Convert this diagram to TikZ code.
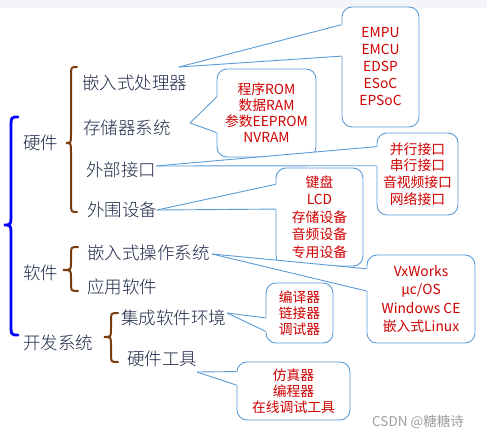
\documentclass[tikz,border=0pt]{standalone}
\usepackage{fontspec}
\newfontfamily\cjk{Noto Sans CJK SC}
\IfFontExistsTF{Noto Sans CJK SC Light}{\newfontfamily\cjkl{Noto Sans CJK SC Light}}{\newfontfamily\cjkl{Noto Sans CJK SC}}
\usetikzlibrary{calc}
\definecolor{navytext}{RGB}{30,40,72}
\definecolor{calloutred}{RGB}{208,0,0}
\definecolor{boxblue}{RGB}{91,155,213}
\definecolor{bracebrown}{RGB}{120,60,15}
\definecolor{braceblue}{RGB}{0,0,255}
\definecolor{topband}{RGB}{243,245,248}
\newcommand\mybrace[8]{%
  \draw[#1] ({#2},{#5}) .. controls ({#3},{#5}) and ({#3},{#5}) .. ({#3},{#5+#8})
    -- ({#3},{#6-#8}) .. controls ({#3},{#6}) and ({#3},{#6}) .. ({#4},{#6})
    .. controls ({#3},{#6}) and ({#3},{#6}) .. ({#3},{#6+#8})
    -- ({#3},{#7-#8}) .. controls ({#3},{#7}) and ({#3},{#7}) .. ({#2},{#7});}
\begin{document}
\begin{tikzpicture}[x=1bp,y=-1bp,
  item/.style={anchor=west, inner sep=0, text=navytext, font=\cjkl\fontsize{17.5bp}{20bp}\selectfont},
  callout/.style={draw=boxblue, line width=0.9bp, rounded corners=10bp, fill=white, inner sep=0,
    align=center, text=calloutred, font=\cjk\fontsize{13.8bp}{#1}\selectfont},
  callout/.default=16.5bp,
  wedgeline/.style={draw=boxblue, line width=0.9bp},
  wedgefill/.style={fill=white, draw=none},
  bluebrace/.style={draw=braceblue, line width=2.8bp, line cap=round},
  brownbrace/.style={draw=bracebrown, line width=2bp, line cap=round},
  wmark/.style={anchor=west, inner sep=0, text=black!38, font=\cjk\fontsize{13.5bp}{16bp}\selectfont}
]
\useasboundingbox (0,0) rectangle (487,438);
\fill[topband] (0,0) rectangle (487,8);

% braces
\mybrace{bluebrace}{18}{11}{4}{117}{225}{335}{12}
\mybrace{brownbrace}{77}{71}{66}{67}{143}{212}{9}
\mybrace{brownbrace}{78}{71}{63}{247}{270}{291}{8}
\mybrace{brownbrace}{118}{111}{104}{313}{337}{362}{8}

% left texts
\node[item] (hw)    at (23,143) {硬件};
\node[item] (sw)    at (23,273) {软件};
\node[item] (dev)   at (23,343) {开发系统};
\node[item] (cpu)   at (82,83)  {嵌入式处理器};
\node[item] (mem)   at (83,128) {存储器系统};
\node[item] (ext)   at (86,170) {外部接口};
\node[item] (per)   at (87,210) {外围设备};
\node[item] (os)    at (87,253) {嵌入式操作系统};
\node[item] (app)   at (87,287) {应用软件};
\node[item] (ide)   at (121,318) {集成软件环境};
\node[item] (tool)  at (127,359) {硬件工具};

% callout boxes
\node[callout=17bp, minimum width=77bp, minimum height=120bp] (b1) at (380.5,67)
  {EMPU\\EMCU\\EDSP\\ESoC\\EPSoC};
\node[callout=16bp, minimum width=99bp, minimum height=88bp] (b2) at (266.5,113)
  {程序ROM\\数据RAM\\参数EEPROM\\NVRAM};
\node[callout=16.7bp, minimum width=81bp, minimum height=82bp] (b3) at (417.5,174)
  {并行接口\\串行接口\\音视频接口\\网络接口};
\node[callout=17.5bp, minimum width=87bp, minimum height=98bp] (b4) at (319.5,217)
  {键盘\\LCD\\存储设备\\音频设备\\专用设备};
\node[callout=18.4bp, minimum width=108bp, minimum height=88bp] (b5) at (421,299)
  {VxWorks\\µc/OS\\Windows CE\\嵌入式Linux};
\node[callout=16bp, minimum width=67bp, minimum height=60bp] (b6) at (299.5,313)
  {编译器\\链接器\\调试器};
\node[callout=16bp, minimum width=113bp, minimum height=58bp] (b7) at (293.5,391)
  {仿真器\\编程器\\在线调试工具};

% pointer tips
\coordinate (t1) at (179,67);
\coordinate (t2) at (190,123);
\coordinate (t3) at (156,166);
\coordinate (t4) at (157,210);
\coordinate (t5) at (212,254);
\coordinate (t6) at (227,313);
\coordinate (t7) at (197,372);

% wedges
\foreach \t/\b/\fa/\fb in {t1/b1/0.15/0.41, t2/b2/0.32/0.72, t3/b3/0.17/0.40,
                          t4/b4/0.17/0.42, t5/b5/0.16/0.41, t6/b6/0.58/0.80,
                          t7/b7/0.17/0.40}{
  \fill[wedgefill] (\t) -- ($(\b.north west)!\fa!(\b.south west)+(1.2,0)$)
     -- ($(\b.north west)!\fb!(\b.south west)+(1.2,0)$) -- cycle;
  \draw[wedgeline] (\t) -- ($(\b.north west)!\fa!(\b.south west)$);
  \draw[wedgeline] (\t) -- ($(\b.north west)!\fb!(\b.south west)$);
}

\node[wmark] (wm) at (372,422) {CSDN @糖糖诗};
\end{tikzpicture}
\end{document}
